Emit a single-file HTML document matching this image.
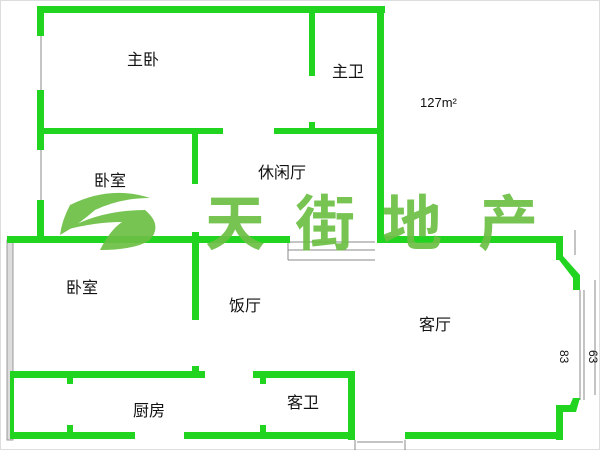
<!DOCTYPE html>
<html><head><meta charset="utf-8"><style>
html,body{margin:0;padding:0;background:#fff;width:600px;height:450px;overflow:hidden}
svg text{font-family:"Liberation Sans","Noto Sans CJK SC",sans-serif;}
</style></head><body>
<svg width="600" height="450" viewBox="0 0 600 450" xmlns="http://www.w3.org/2000/svg">
<rect width="600" height="450" fill="#fff"/>
<rect x="0.5" y="0.5" width="599" height="449" fill="none" stroke="#ddd"/>
<g stroke="#888" stroke-width="1" fill="none">
<line x1="41" y1="36" x2="41" y2="90"/><line x1="41" y1="150" x2="41" y2="200"/>
<line x1="380" y1="100" x2="380" y2="240"/>
<line x1="288" y1="242" x2="375" y2="242"/><line x1="288" y1="250" x2="375" y2="250"/><line x1="288" y1="260" x2="375" y2="260"/>
<line x1="288" y1="236" x2="288" y2="260"/>
<line x1="580" y1="290" x2="580" y2="400"/><line x1="584" y1="290" x2="584" y2="400"/>
<line x1="575" y1="230" x2="575" y2="255"/>
<line x1="595" y1="280" x2="595" y2="395"/>
<line x1="355" y1="440" x2="355" y2="450"/><line x1="405" y1="440" x2="405" y2="450"/>
<line x1="357" y1="442" x2="403" y2="442"/>
</g>
<rect x="7" y="240" width="6" height="200" fill="#ddd" stroke="#999" stroke-width="1"/>
<g fill="#20d420">
<rect x="37" y="6" width="348" height="7"/>
<rect x="37" y="6" width="7" height="30"/>
<rect x="37" y="90" width="7" height="60"/>
<rect x="37" y="200" width="7" height="42"/>
<rect x="377" y="6" width="7" height="236"/>
<rect x="309" y="6" width="6" height="70"/>
<rect x="37" y="128" width="186" height="6"/>
<rect x="274" y="128" width="110" height="6"/>
<rect x="309" y="122" width="6" height="8"/>
<rect x="192" y="128" width="6" height="56"/>
<rect x="7" y="236" width="283" height="7"/>
<rect x="377" y="236" width="186" height="7"/>
<rect x="192" y="232" width="7" height="88"/>
<rect x="556" y="236" width="7" height="24"/>
<polygon points="556,256 563,256 580,275 580,290 573,290 573,278"/>
<polygon points="573,398 580,398 576,412 563,412 563,440 556,440 556,405 570,405"/>
<rect x="10" y="371" width="195" height="7"/>
<rect x="67" y="371" width="6" height="13"/>
<rect x="192" y="366" width="7" height="10"/>
<rect x="253" y="371" width="102" height="7"/>
<rect x="260" y="371" width="6" height="13"/>
<rect x="348" y="371" width="7" height="69"/>
<rect x="10" y="432" width="125" height="7"/>
<rect x="184" y="432" width="171" height="7"/>
<rect x="67" y="425" width="6" height="10"/>
<rect x="260" y="425" width="6" height="10"/>
<rect x="405" y="432" width="158" height="7"/>
<rect x="10" y="371" width="4" height="68"/>
</g>
<g font-size="16" fill="#111">
<text x="127" y="65">主卧</text>
<text x="332" y="77">主卫</text>
<text x="420" y="107" font-size="13">127m²</text>
<text x="94" y="186">卧室</text>
<text x="258" y="178">休闲厅</text>
<text x="66" y="293">卧室</text>
<text x="229" y="311">饭厅</text>
<text x="419" y="330">客厅</text>
<text x="133" y="416">厨房</text>
<text x="287" y="408">客卫</text>
<text x="560" y="350" font-size="12" transform="rotate(90 560 350)">83</text>
<text x="589" y="350" font-size="12" transform="rotate(90 589 350)">63</text>
</g>
<g fill="#6cbf45" opacity="0.92">
<path d="M70,205 Q110,185 150,198 Q120,198 95,210 Q78,225 60,235 Q62,220 70,205Z"/>
<path d="M65,230 Q100,210 145,210 Q163,225 150,240 Q135,250 100,250 Q110,230 122,222 Q95,222 65,230Z"/>
<text x="205" y="245" font-size="60" font-weight="bold" font-family="'Noto Sans CJK SC',sans-serif">天</text>
<text x="295" y="245" font-size="60" font-weight="bold" font-family="'Noto Sans CJK SC',sans-serif">街</text>
<text x="382" y="245" font-size="60" font-weight="bold" font-family="'Noto Sans CJK SC',sans-serif">地</text>
<text x="478" y="245" font-size="60" font-weight="bold" font-family="'Noto Sans CJK SC',sans-serif">产</text>
</g>
</svg>
</body></html>
